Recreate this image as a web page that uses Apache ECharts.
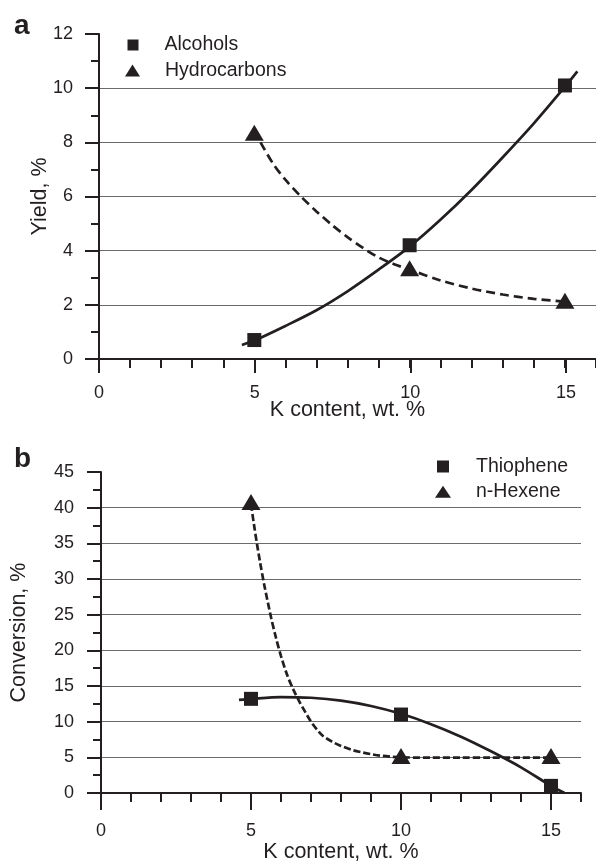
<!DOCTYPE html>
<html><head><meta charset="utf-8">
<script src="https://cdn.jsdelivr.net/npm/echarts@6/dist/echarts.min.js"></script>
<style>html,body{margin:0;padding:0;background:#fff}#c{width:596px;height:864px}</style>
</head><body><div id="c"></div>
<script>
// ---- data ----
const kContent = [5, 10, 15];
// panel a
const alcohols = [0.7, 4.2, 10.1];
const hydrocarbons = [8.35, 3.35, 2.15];
const alcoholsFitX = [4.6, 5, 6, 7, 8, 9, 10, 11, 12, 13, 14, 15, 15.4];
const alcoholsFitY = [0.52, 0.68, 1.22, 1.8, 2.5, 3.3, 4.15, 5.15, 6.25, 7.45, 8.7, 10.05, 10.62];
const hydroFitX = [5.2, 5.6, 6.0, 6.5, 7.0, 7.5, 8.0, 8.5, 9.0, 9.5, 10, 11, 12, 13, 14, 15];
const hydroFitY = [8.0, 7.22, 6.62, 6.0, 5.45, 4.95, 4.5, 4.1, 3.75, 3.5, 3.3, 2.9, 2.6, 2.38, 2.22, 2.12];
// panel b
const thiophene = [13.2, 11.0, 1.0];
const nHexene = [40.8, 5.2, 5.2];
const thioFitX = [4.6, 5, 6, 7, 8, 9, 10, 11, 12, 13, 14, 15, 15.45];
const thioFitY = [13.05, 13.2, 13.45, 13.35, 12.95, 12.2, 11.1, 9.65, 7.9, 5.85, 3.6, 1.0, 0];
const hexFitX = [5.0, 5.1, 5.2, 5.3, 5.45, 5.67, 5.83, 6.0, 6.2, 6.4, 6.6, 6.8, 7.0, 7.2, 7.4, 7.7, 8.0, 8.4, 8.7, 9.0, 9.3, 9.65, 10, 11, 12, 13, 14, 15];
const hexFitY = [40.5, 37.6, 34.9, 32.4, 29.0, 24.6, 21.8, 19.2, 16.6, 14.6, 12.9, 11.4, 10.0, 8.9, 8.0, 7.2, 6.6, 6.0, 5.7, 5.45, 5.25, 5.1, 5.0, 4.95, 4.95, 4.95, 4.95, 4.95];
// axes
const xMax = 16, xMajor = 5, xMinor = 1;
const yMaxA = 12, yStepA = 2;
const yMaxB = 45, yStepB = 5;
const labelsA = ['Alcohols', 'Hydrocarbons'];
const labelsB = ['Thiophene', 'n-Hexene'];
const xName = 'K content, wt. %';
const yNameA = 'Yield, %';
const yNameB = 'Conversion, %';

// ---- build ----
const INK = '#231f20';
const FONT = "'Liberation Sans', Arial, Helvetica, sans-serif";
const pairs = (xs, ys) => xs.map((x, i) => [x, ys[i]]);

const axLine = {show: true, lineStyle: {color: INK, width: 2}};
const tickStyle = {color: INK, width: 2};
const tickLabel = (m) => ({fontSize: 18, color: INK, fontFamily: FONT, margin: m});
const nameStyle = {fontSize: 21.5, color: INK, fontFamily: FONT};
const grid = {show: true, showMinLine: false, showMaxLine: false, lineStyle: {color: '#6a6a6a', width: 1}};

function minorX(gi, gap) {
  return {gridIndex: gi, type: 'value', min: 0, max: xMax, interval: xMinor,
    axisLine: axLine, axisTick: {length: 9, lineStyle: tickStyle},
    axisLabel: {show: false}, splitLine: {show: false},
    name: xName, nameLocation: 'middle', nameGap: gap, nameMoveOverlap: false, nameTextStyle: nameStyle};
}
function majorX(gi, m) {
  return {gridIndex: gi, type: 'value', min: 0, max: 15, interval: xMajor,
    axisLine: {show: false}, axisTick: {length: 14, lineStyle: tickStyle},
    axisLabel: tickLabel(m), splitLine: {show: false}};
}
function mainY(gi, max, step, name, gap, m) {
  return {gridIndex: gi, type: 'value', min: 0, max: max, interval: step,
    axisLine: axLine, axisTick: {length: 14, lineStyle: tickStyle},
    minorTick: {show: true, splitNumber: 2, length: 8, lineStyle: tickStyle},
    axisLabel: tickLabel(m), splitLine: grid,
    name: name, nameLocation: 'middle', nameGap: gap, nameMoveOverlap: false, nameRotate: 90, nameTextStyle: nameStyle};
}
const hiddenY = (gi) => ({gridIndex: gi, type: 'value', min: 0, max: 1, show: false});

function marks(name, xi, yi, ys, sym) {
  return {name: name, type: 'scatter', xAxisIndex: xi, yAxisIndex: yi,
    symbol: sym, symbolSize: sym === 'rect' ? 14 : [19, 16],
    itemStyle: {color: INK, opacity: 1}, data: pairs(kContent, ys), z: 5, silent: true};
}
function fit(xi, yi, xs, ys, dash) {
  return {type: 'line', xAxisIndex: xi, yAxisIndex: yi, data: pairs(xs, ys),
    smooth: 0.3, symbol: 'none', showSymbol: false, clip: false, silent: true,
    lineStyle: {color: INK, width: 2.7, type: dash || 'solid'}, z: 3};
}
function leg(name, icon, left, top, w, h, pad) {
  return {data: [{name: name, icon: icon, itemStyle: {color: INK, opacity: 1}}], left: left, top: top, padding: 0,
    itemWidth: w, itemHeight: h, selectedMode: false,
    textStyle: {fontSize: 19.5, color: INK, fontFamily: FONT, lineHeight: 20, padding: [0, 0, 0, pad]}};
}

const option = {
  animation: false,
  backgroundColor: '#fff',
  title: [
    {text: 'a', left: 14, top: 12, padding: 0, textStyle: {fontSize: 28, fontWeight: 'bold', color: INK, fontFamily: FONT}},
    {text: 'b', left: 14, top: 445, padding: 0, textStyle: {fontSize: 28, fontWeight: 'bold', color: INK, fontFamily: FONT}}
  ],
  legend: [
    leg(labelsA[0], 'rect', 127.5, 35, 11, 11, 21),
    leg(labelsA[1], 'triangle', 125, 60.5, 15, 12, 20),
    leg(labelsB[0], 'rect', 437, 456.5, 12, 12, 22),
    leg(labelsB[1], 'triangle', 435, 481.7, 16, 12, 20)
  ],
  grid: [
    {left: 99, top: 34, width: 498, height: 325},
    {left: 99, top: 34, width: 467, height: 325},
    {left: 101, top: 472, width: 480, height: 324},
    {left: 101, top: 472, width: 450, height: 324}
  ],
  xAxis: [minorX(0, 40), majorX(1, 25), minorX(2, 48), majorX(3, 26)],
  yAxis: [mainY(0, yMaxA, yStepA, yNameA, 48, 26), hiddenY(1), mainY(2, yMaxB, yStepB, yNameB, 71, 27), hiddenY(3)],
  series: [
    fit(0, 0, alcoholsFitX, alcoholsFitY),
    fit(0, 0, hydroFitX, hydroFitY, [9, 5]),
    marks(labelsA[0], 0, 0, alcohols, 'rect'),
    marks(labelsA[1], 0, 0, hydrocarbons, 'triangle'),
    fit(2, 2, thioFitX, thioFitY),
    fit(2, 2, hexFitX, hexFitY, [7, 3]),
    marks(labelsB[0], 2, 2, thiophene, 'rect'),
    marks(labelsB[1], 2, 2, nHexene, 'triangle')
  ]
};
const chart = echarts.init(document.getElementById('c'), null, {renderer: 'canvas'});
chart.setOption(option);
</script>
</body></html>
